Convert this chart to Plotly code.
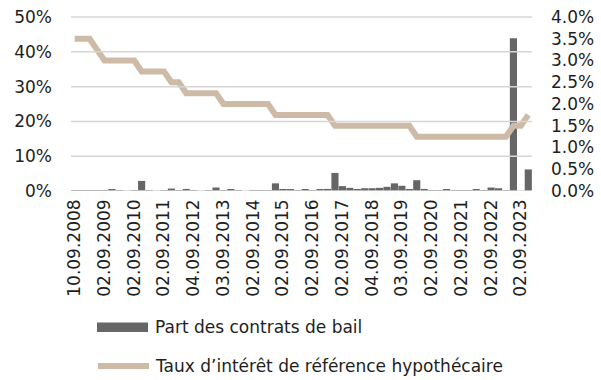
import plotly.graph_objects as go

# Quarterly publication dates of the mortgage reference rate
dates = [
    "10.09.2008", "02.12.2008", "02.03.2009", "02.06.2009",
    "02.09.2009", "01.12.2009", "02.03.2010", "01.06.2010",
    "02.09.2010", "01.12.2010", "01.03.2011", "01.06.2011",
    "02.09.2011", "01.12.2011", "01.03.2012", "01.06.2012",
    "04.09.2012", "03.12.2012", "01.03.2013", "03.06.2013",
    "03.09.2013", "02.12.2013", "03.03.2014", "02.06.2014",
    "02.09.2014", "01.12.2014", "02.03.2015", "01.06.2015",
    "02.09.2015", "01.12.2015", "01.03.2016", "01.06.2016",
    "02.09.2016", "01.12.2016", "01.03.2017", "01.06.2017",
    "02.09.2017", "01.12.2017", "01.03.2018", "01.06.2018",
    "04.09.2018", "03.12.2018", "01.03.2019", "03.06.2019",
    "03.09.2019", "02.12.2019", "02.03.2020", "02.06.2020",
    "02.09.2020", "01.12.2020", "01.03.2021", "01.06.2021",
    "02.09.2021", "01.12.2021", "01.03.2022", "01.06.2022",
    "02.09.2022", "01.12.2022", "01.03.2023", "01.06.2023",
    "02.09.2023", "01.12.2023",
]

# Share of lease contracts (%), left axis
share_leases = [
    0.1, 0.1, 0.1, 0.1, 0.2, 0.3, 0.1, 0.0,
    0.1, 2.9, 0.1, 0.0, 0.1, 0.7, 0.1, 0.6,
    0.1, 0.0, 0.1, 1.0, 0.2, 0.4, 0.1, 0.0,
    0.1, 0.1, 0.2, 2.2, 0.4, 0.4, 0.2, 0.3,
    0.2, 0.4, 0.6, 5.2, 1.4, 0.9, 0.5, 0.8,
    0.8, 0.9, 1.2, 2.2, 1.5, 0.3, 3.1, 0.6,
    0.1, 0.1, 0.5, 0.2, 0.2, 0.2, 0.3, 0.2,
    1.0, 0.8, 0.1, 43.9, 0.0, 6.2,
]

# Mortgage reference interest rate (%), right axis
reference_rate = [
    3.5, 3.5, 3.5, 3.25, 3.0, 3.0, 3.0, 3.0,
    3.0, 2.75, 2.75, 2.75, 2.75, 2.5, 2.5, 2.25,
    2.25, 2.25, 2.25, 2.25, 2.0, 2.0, 2.0, 2.0,
    2.0, 2.0, 2.0, 1.75, 1.75, 1.75, 1.75, 1.75,
    1.75, 1.75, 1.75, 1.5, 1.5, 1.5, 1.5, 1.5,
    1.5, 1.5, 1.5, 1.5, 1.5, 1.5, 1.25, 1.25,
    1.25, 1.25, 1.25, 1.25, 1.25, 1.25, 1.25, 1.25,
    1.25, 1.25, 1.25, 1.5, 1.5, 1.75,
]

tick_labels = dates[::4]

left_ticks = [0, 10, 20, 30, 40, 50]
left_tick_text = ["0%", "10%", "20%", "30%", "40%", "50%"]
right_ticks = [0.0, 0.5, 1.0, 1.5, 2.0, 2.5, 3.0, 3.5, 4.0]
right_tick_text = ["0.0%", "0.5%", "1.0%", "1.5%", "2.0%",
                   "2.5%", "3.0%", "3.5%", "4.0%"]

legend_labels = ["Part des contrats de bail",
                 "Taux d\u2019intérêt de référence hypothécaire"]

BAR_COLOR = "#666666"
LINE_COLOR = "#CDBBA7"
GRID_COLOR = "#D6D6D6"
TEXT_COLOR = "#1E1E1E"
FONT = "DejaVu Sans"
FS = 17

W, H = 601, 380
ML, MR, MT, MB = 71, 69, 16, 189
PW, PH = W - ML - MR, H - MT - MB

# a hair of headroom so the top gridline at 50% sits inside the plot
Y_TOP = 50.3
Y2_TOP = 4.0 * Y_TOP / 50.0

fig = go.Figure()
fig.add_trace(go.Bar(
    x=dates, y=share_leases, marker_color=BAR_COLOR,
    marker_line_width=0, name=legend_labels[0], yaxis="y",
))
fig.add_trace(go.Scatter(
    x=dates, y=reference_rate, mode="lines",
    line=dict(color=LINE_COLOR, width=6), name=legend_labels[1],
    yaxis="y2",
))


def px_x(x):
    return (x - ML) / PW


def px_y(y):
    return (H - MB - y) / PH


# Horizontal gridlines at the left-axis ticks
shapes = [
    dict(type="line", xref="paper", yref="y", x0=0, x1=1, y0=v, y1=v,
         line=dict(color=GRID_COLOR, width=1.5), layer="above")
    for v in left_ticks
]

# Legend drawn below the tick labels
shapes += [
    dict(type="rect", xref="paper", yref="paper",
         x0=px_x(97), x1=px_x(148), y0=px_y(332), y1=px_y(322.5),
         fillcolor=BAR_COLOR, line_width=0),
    dict(type="line", xref="paper", yref="paper",
         x0=px_x(98), x1=px_x(149), y0=px_y(366), y1=px_y(366),
         line=dict(color=LINE_COLOR, width=6)),
]
annotations = [
    dict(text=legend_labels[0], xref="paper", yref="paper",
         x=px_x(153), y=px_y(327), xanchor="left", yanchor="middle",
         showarrow=False, font=dict(family=FONT, size=FS, color=TEXT_COLOR)),
    dict(text=legend_labels[1], xref="paper", yref="paper",
         x=px_x(153), y=px_y(366), xanchor="left", yanchor="middle",
         showarrow=False, font=dict(family=FONT, size=FS, color=TEXT_COLOR)),
]

fig.update_layout(
    template="none",
    width=W, height=H,
    margin=dict(l=ML, r=MR, t=MT, b=MB, pad=0),
    font=dict(family=FONT, size=FS, color=TEXT_COLOR),
    showlegend=False, bargap=0.04,
    xaxis=dict(
        type="category", range=[-0.5, len(dates) - 0.5],
        tickmode="array", tickvals=tick_labels, ticktext=tick_labels,
        tickangle=-90, showgrid=False, zeroline=False,
        ticklabelstandoff=4,
    ),
    yaxis=dict(
        range=[0, Y_TOP], tickmode="array", tickvals=left_ticks,
        ticktext=left_tick_text, showgrid=False, zeroline=False,
        ticklabelstandoff=18,
    ),
    yaxis2=dict(
        range=[0, Y2_TOP], tickmode="array", tickvals=right_ticks,
        ticktext=right_tick_text, overlaying="y", side="right",
        showgrid=False, zeroline=False, ticklabelstandoff=18,
    ),
    shapes=shapes, annotations=annotations,
)

fig.write_html("out.html")
